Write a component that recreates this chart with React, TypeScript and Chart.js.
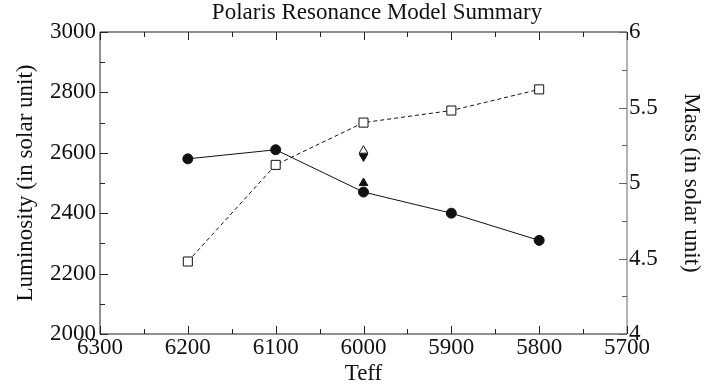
import React, { useEffect, useRef } from "react";
import { Chart, registerables } from "chart.js";

Chart.register(...registerables);

const teff = [6200, 6100, 6000, 5900, 5800];
const luminosity = [2580, 2610, 2470, 2400, 2310];
const mass = [4.48, 5.12, 5.4, 5.48, 5.62];
const openTriUpLum = [{ x: 6000, y: 2607 }];
const filledTriDownLum = [{ x: 6000, y: 2588 }];
const filledTriUpLum = [{ x: 6000, y: 2500 }];
const openTriDownLum = [{ x: 6000, y: 2698 }];

const FONT = "'Liberation Serif', 'DejaVu Serif', serif";
const TITLE = "Polaris Resonance Model Summary";
const FS = 23;

const framePlugin = {
  id: "frameTicks",
  afterDraw(chart: any) {
    const ctx = chart.ctx;
    const { left, right, top, bottom } = chart.chartArea;
    const xs = chart.scales.x;
    const ys = chart.scales.y;
    const y1 = chart.scales.y1;
    ctx.save();
    ctx.lineWidth = 1;
    ctx.strokeStyle = "#222";
    ctx.beginPath();
    ctx.moveTo(left, top);
    ctx.lineTo(right, top);
    ctx.moveTo(left, top);
    ctx.lineTo(left, bottom);
    ctx.lineTo(right, bottom);
    ctx.stroke();
    ctx.strokeStyle = "#666";
    ctx.beginPath();
    ctx.moveTo(right, top);
    ctx.lineTo(right, bottom);
    ctx.stroke();
    ctx.strokeStyle = "#222";
    ctx.beginPath();
    xs.ticks.forEach((t: any) => {
      const px = Math.round(xs.getPixelForValue(t.value)) + 0.5;
      const len = t.value % 100 === 0 ? 8 : 5;
      ctx.moveTo(px, bottom);
      ctx.lineTo(px, bottom - len);
      ctx.moveTo(px, top);
      ctx.lineTo(px, top + len);
    });
    ys.ticks.forEach((t: any) => {
      const py = Math.round(ys.getPixelForValue(t.value)) + 0.5;
      const len = t.value % 200 === 0 ? 8 : 5;
      ctx.moveTo(left, py);
      ctx.lineTo(left + len, py);
    });
    ctx.stroke();
    ctx.strokeStyle = "#666";
    ctx.beginPath();
    y1.ticks.forEach((t: any) => {
      const py = Math.round(y1.getPixelForValue(t.value)) + 0.5;
      const len = Math.abs((t.value * 2) % 1) < 1e-6 ? 8 : 5;
      ctx.moveTo(right, py);
      ctx.lineTo(right - len, py);
    });
    ctx.stroke();
    ctx.fillStyle = "#111";
    ctx.font = `${FS}px ${FONT}`;
    ctx.textAlign = "center";
    ctx.textBaseline = "middle";
    ctx.fillText(TITLE, 377, 13);
    ctx.restore();
  },
};

export default function App() {
  const ref = useRef<HTMLCanvasElement | null>(null);
  useEffect(() => {
    document.body.style.margin = "0";
    if (!ref.current) return;
    const toPts = (vals: number[]) => teff.map((x, i) => ({ x, y: vals[i] }));
    const chart = new Chart(ref.current, {
      type: "scatter",
      data: {
        datasets: [
          {
            label: "Luminosity",
            data: toPts(luminosity),
            showLine: true,
            borderColor: "#111",
            backgroundColor: "#111",
            borderWidth: 1,
            pointStyle: "circle",
            pointRadius: 5,
            yAxisID: "y",
          },
          {
            label: "Mass",
            data: toPts(mass),
            showLine: true,
            borderColor: "#111",
            backgroundColor: "#fff",
            borderWidth: 1,
            borderDash: [4, 3],
            pointStyle: "rect",
            pointRadius: 6.4,
            pointBorderWidth: 1,
            yAxisID: "y1",
          },
          {
            label: "open up",
            data: openTriUpLum,
            borderColor: "#111",
            backgroundColor: "#fff",
            pointStyle: "triangle",
            pointRadius: 5,
            pointBorderWidth: 1,
            yAxisID: "y",
          },
          {
            label: "filled down",
            data: filledTriDownLum,
            borderColor: "#111",
            backgroundColor: "#111",
            pointStyle: "triangle",
            pointRotation: 180,
            pointRadius: 5,
            yAxisID: "y",
          },
          {
            label: "filled up",
            data: filledTriUpLum,
            borderColor: "#111",
            backgroundColor: "#111",
            pointStyle: "triangle",
            pointRadius: 5,
            yAxisID: "y",
          },
          {
            label: "open down",
            data: openTriDownLum,
            borderColor: "#111",
            backgroundColor: "rgba(255,255,255,0)",
            pointStyle: "triangle",
            pointRotation: 180,
            pointRadius: 4,
            pointBorderWidth: 1,
            yAxisID: "y",
          },
        ],
      },
      options: {
        animation: false,
        responsive: false,
        layout: { padding: { top: 32, left: 0, right: 0, bottom: 0 } },
        plugins: {
          legend: { display: false },
          tooltip: { enabled: false },
          title: { display: false },
        },
        scales: {
          x: {
            type: "linear",
            reverse: true,
            min: 5700,
            max: 6300,
            grid: { display: false, drawTicks: false },
            border: { display: false },
            ticks: {
              stepSize: 50,
              autoSkip: false,
              maxRotation: 0,
              padding: 0,
              color: "#111",
              font: { family: FONT, size: FS },
              callback: (v: any) => (Number(v) % 100 === 0 ? String(v) : ""),
            },
            title: {
              display: true,
              text: "Teff",
              color: "#111",
              font: { family: FONT, size: FS },
              padding: { top: 0, bottom: 2 },
            },
            afterFit: (s: any) => {
              s.height = 56;
            },
          },
          y: {
            position: "left",
            min: 2000,
            max: 3000,
            grid: { display: false, drawTicks: false },
            border: { display: false },
            ticks: {
              stepSize: 100,
              autoSkip: false,
              padding: 4,
              color: "#111",
              font: { family: FONT, size: FS },
              callback: (v: any) => (Number(v) % 200 === 0 ? String(v) : ""),
            },
            title: {
              display: true,
              text: "Luminosity (in solar unit)",
              color: "#111",
              font: { family: FONT, size: FS },
              padding: { top: 12, bottom: 0 },
            },
            afterFit: (s: any) => {
              s.width = 100;
            },
          },
          y1: {
            position: "right",
            min: 4,
            max: 6,
            grid: { display: false, drawTicks: false },
            border: { display: false },
            ticks: {
              stepSize: 0.25,
              autoSkip: false,
              padding: 2,
              color: "#111",
              font: { family: FONT, size: FS },
              callback: (v: any) =>
                Math.abs((Number(v) * 2) % 1) < 1e-6 ? String(v) : "",
            },
            title: {
              display: true,
              text: "Mass (in solar unit)",
              color: "#111",
              font: { family: FONT, size: FS },
              padding: { top: 10, bottom: 0 },
            },
            afterFit: (s: any) => {
              s.width = 88;
            },
          },
        },
      },
      plugins: [framePlugin],
    });
    return () => chart.destroy();
  }, []);
  return (
    <div style={{ width: 715, height: 390 }}>
      <canvas ref={ref} width={715} height={390} />
    </div>
  );
}
